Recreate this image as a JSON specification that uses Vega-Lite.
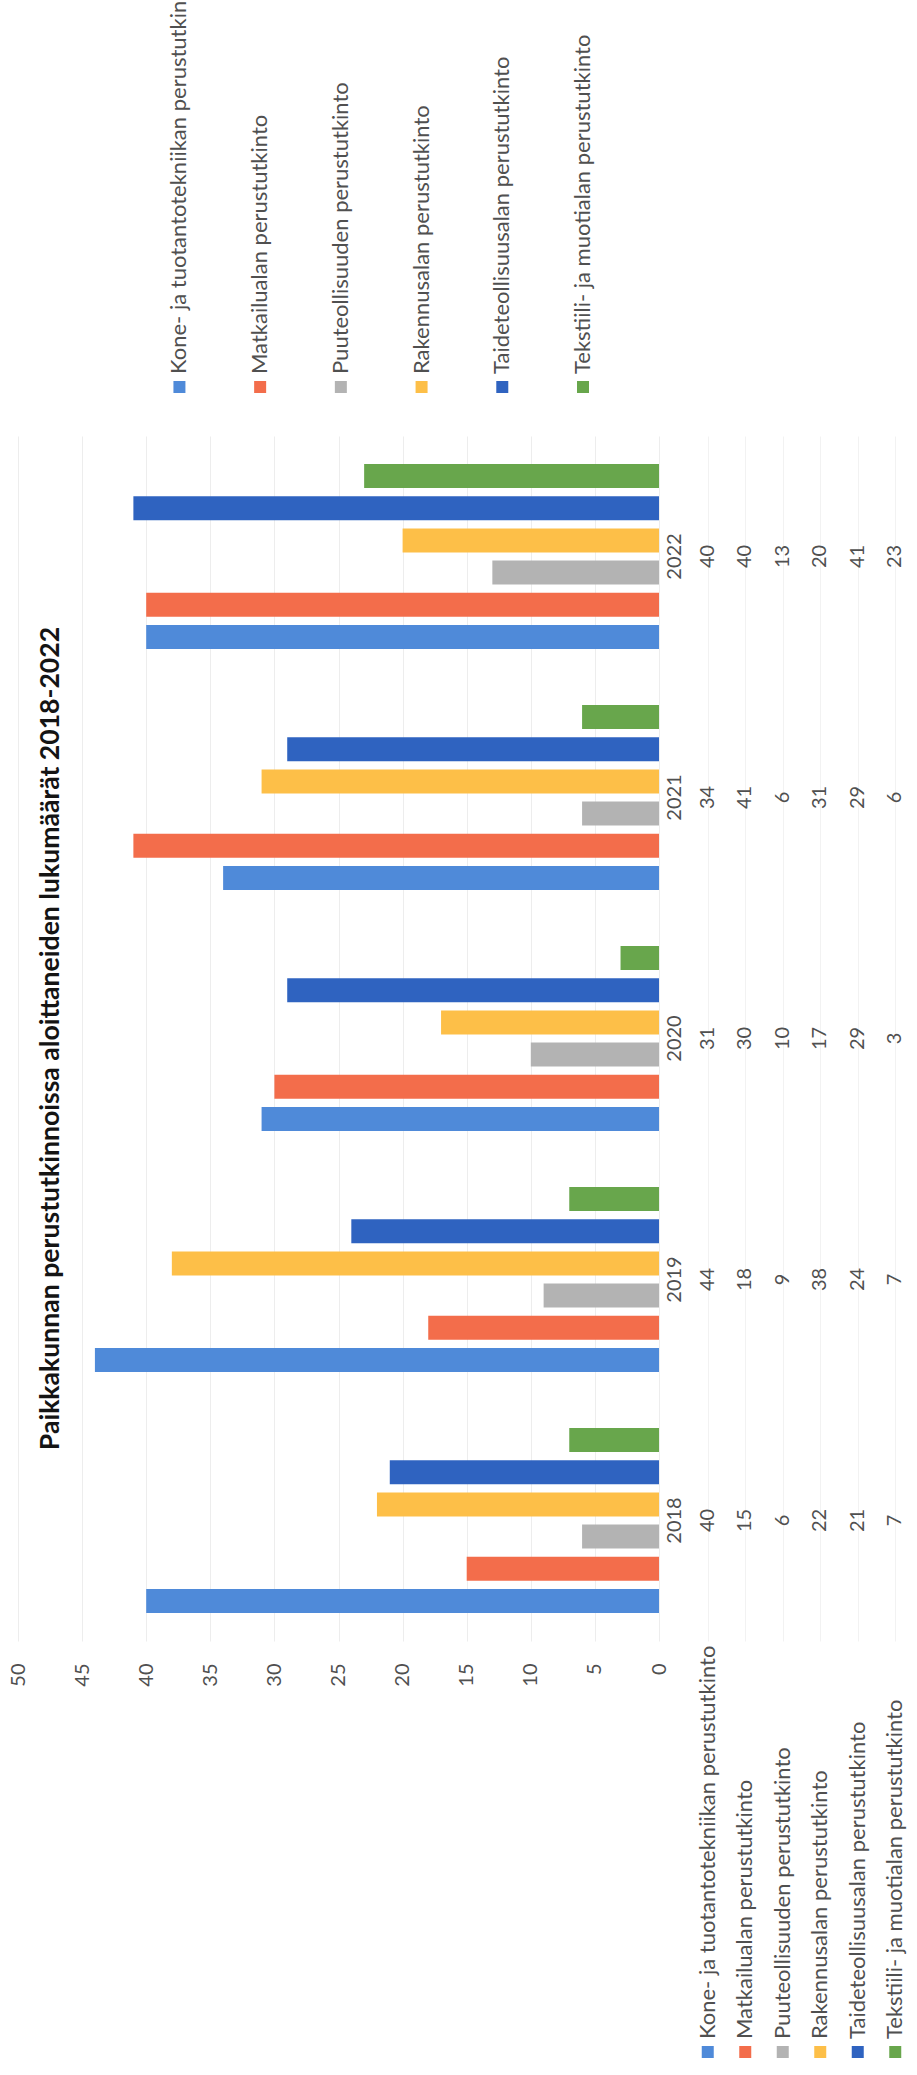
{
  "$schema": "https://vega.github.io/schema/vega-lite/v6.json",
  "background": "white",
  "padding": {"left": 8, "top": 0, "right": 0, "bottom": 0},
  "config": {"view": {"stroke": null}, "font": "Lato"},
  "datasets": {
    "main": [
      {"vuosi": "2018", "tutkinto": "Kone- ja tuotantotekniikan perustutkinto", "lkm": 40},
      {"vuosi": "2019", "tutkinto": "Kone- ja tuotantotekniikan perustutkinto", "lkm": 44},
      {"vuosi": "2020", "tutkinto": "Kone- ja tuotantotekniikan perustutkinto", "lkm": 31},
      {"vuosi": "2021", "tutkinto": "Kone- ja tuotantotekniikan perustutkinto", "lkm": 34},
      {"vuosi": "2022", "tutkinto": "Kone- ja tuotantotekniikan perustutkinto", "lkm": 40},
      {"vuosi": "2018", "tutkinto": "Matkailualan perustutkinto", "lkm": 15},
      {"vuosi": "2019", "tutkinto": "Matkailualan perustutkinto", "lkm": 18},
      {"vuosi": "2020", "tutkinto": "Matkailualan perustutkinto", "lkm": 30},
      {"vuosi": "2021", "tutkinto": "Matkailualan perustutkinto", "lkm": 41},
      {"vuosi": "2022", "tutkinto": "Matkailualan perustutkinto", "lkm": 40},
      {"vuosi": "2018", "tutkinto": "Puuteollisuuden perustutkinto", "lkm": 6},
      {"vuosi": "2019", "tutkinto": "Puuteollisuuden perustutkinto", "lkm": 9},
      {"vuosi": "2020", "tutkinto": "Puuteollisuuden perustutkinto", "lkm": 10},
      {"vuosi": "2021", "tutkinto": "Puuteollisuuden perustutkinto", "lkm": 6},
      {"vuosi": "2022", "tutkinto": "Puuteollisuuden perustutkinto", "lkm": 13},
      {"vuosi": "2018", "tutkinto": "Rakennusalan perustutkinto", "lkm": 22},
      {"vuosi": "2019", "tutkinto": "Rakennusalan perustutkinto", "lkm": 38},
      {"vuosi": "2020", "tutkinto": "Rakennusalan perustutkinto", "lkm": 17},
      {"vuosi": "2021", "tutkinto": "Rakennusalan perustutkinto", "lkm": 31},
      {"vuosi": "2022", "tutkinto": "Rakennusalan perustutkinto", "lkm": 20},
      {"vuosi": "2018", "tutkinto": "Taideteollisuusalan perustutkinto", "lkm": 21},
      {"vuosi": "2019", "tutkinto": "Taideteollisuusalan perustutkinto", "lkm": 24},
      {"vuosi": "2020", "tutkinto": "Taideteollisuusalan perustutkinto", "lkm": 29},
      {"vuosi": "2021", "tutkinto": "Taideteollisuusalan perustutkinto", "lkm": 29},
      {"vuosi": "2022", "tutkinto": "Taideteollisuusalan perustutkinto", "lkm": 41},
      {"vuosi": "2018", "tutkinto": "Tekstiili- ja muotialan perustutkinto", "lkm": 7},
      {"vuosi": "2019", "tutkinto": "Tekstiili- ja muotialan perustutkinto", "lkm": 7},
      {"vuosi": "2020", "tutkinto": "Tekstiili- ja muotialan perustutkinto", "lkm": 3},
      {"vuosi": "2021", "tutkinto": "Tekstiili- ja muotialan perustutkinto", "lkm": 6},
      {"vuosi": "2022", "tutkinto": "Tekstiili- ja muotialan perustutkinto", "lkm": 23}
    ],
    "sarjat": [
      {"tutkinto": "Kone- ja tuotantotekniikan perustutkinto"},
      {"tutkinto": "Matkailualan perustutkinto"},
      {"tutkinto": "Puuteollisuuden perustutkinto"},
      {"tutkinto": "Rakennusalan perustutkinto"},
      {"tutkinto": "Taideteollisuusalan perustutkinto"},
      {"tutkinto": "Tekstiili- ja muotialan perustutkinto"}
    ]
  },
  "spacing": 39,
  "vconcat": [
    {
      "data": {"name": "sarjat"},
      "width": 565,
      "height": 20,
      "layer": [
        {
          "mark": {"type": "point", "shape": "square", "filled": true, "size": 144, "opacity": 1},
          "encoding": {
            "x": {"field": "tutkinto", "type": "nominal", "scale": {"type": "point", "domain": ["Kone- ja tuotantotekniikan perustutkinto", "Matkailualan perustutkinto", "Puuteollisuuden perustutkinto", "Rakennusalan perustutkinto", "Taideteollisuusalan perustutkinto", "Tekstiili- ja muotialan perustutkinto"], "padding": 3.75, "align": 1}, "axis": null},
            "color": {"field": "tutkinto", "type": "nominal", "scale": {"domain": ["Kone- ja tuotantotekniikan perustutkinto", "Matkailualan perustutkinto", "Puuteollisuuden perustutkinto", "Rakennusalan perustutkinto", "Taideteollisuusalan perustutkinto", "Tekstiili- ja muotialan perustutkinto"], "range": ["#4f8ad9", "#f36d4b", "#b3b3b3", "#fdbf48", "#2f63c0", "#68a64c"]}, "legend": null}
          }
        },
        {
          "mark": {"type": "text", "angle": 270, "align": "left", "baseline": "middle", "dx": 13, "fontSize": 22, "color": "#505050", "limit": 374, "ellipsis": "\u200b"},
          "encoding": {
            "x": {"field": "tutkinto", "type": "nominal", "scale": {"type": "point", "domain": ["Kone- ja tuotantotekniikan perustutkinto", "Matkailualan perustutkinto", "Puuteollisuuden perustutkinto", "Rakennusalan perustutkinto", "Taideteollisuusalan perustutkinto", "Tekstiili- ja muotialan perustutkinto"], "padding": 3.75, "align": 1}, "axis": null},
            "text": {"field": "tutkinto", "type": "nominal"}
          }
        }
      ]
    },
    {
      "spacing": 5,
      "hconcat": [
        {
          "data": {"name": "main"},
          "width": 641,
          "height": 1205,
          "title": {"text": "Paikkakunnan perustutkinnoissa aloittaneiden lukumäärät 2018-2022", "orient": "left", "anchor": "middle", "offset": -57, "fontSize": 26.6, "font": "Lato", "fontWeight": "bold", "color": "#141414"},
          "mark": {"type": "bar"},
          "encoding": {
            "x": {"field": "lkm", "type": "quantitative", "scale": {"domain": [0, 50], "reverse": true, "nice": false}, "axis": {"values": [0, 5, 10, 15, 20, 25, 30, 35, 40, 45, 50], "orient": "bottom", "labelAngle": 270, "labelAlign": "right", "labelBaseline": "middle", "labelPadding": 22, "ticks": false, "domain": false, "grid": true, "gridColor": "#ededed", "labelFontSize": 20, "labelColor": "#505050", "title": null}},
            "y": {"field": "vuosi", "type": "nominal", "sort": "descending", "scale": {"paddingInner": 0, "paddingOuter": 0}, "axis": {"orient": "right", "labelAngle": 270, "labelAlign": "center", "labelBaseline": "top", "labelPadding": 5, "ticks": false, "domain": false, "title": null, "labelFontSize": 20, "labelColor": "#505050"}},
            "yOffset": {"field": "tutkinto", "type": "nominal", "scale": {"domain": ["Tekstiili- ja muotialan perustutkinto", "Taideteollisuusalan perustutkinto", "Rakennusalan perustutkinto", "Puuteollisuuden perustutkinto", "Matkailualan perustutkinto", "Kone- ja tuotantotekniikan perustutkinto"], "paddingInner": 0.255, "paddingOuter": 0.87}},
            "color": {"field": "tutkinto", "type": "nominal", "legend": null}
          }
        },
        {
          "spacing": 4,
          "vconcat": [
            {
              "data": {"name": "main"},
              "width": 225,
              "height": 1205,
              "mark": {"type": "text", "angle": 270, "align": "center", "baseline": "middle", "fontSize": 20, "color": "#505050"},
              "encoding": {
                "x": {"field": "tutkinto", "type": "nominal", "scale": {"domain": ["Kone- ja tuotantotekniikan perustutkinto", "Matkailualan perustutkinto", "Puuteollisuuden perustutkinto", "Rakennusalan perustutkinto", "Taideteollisuusalan perustutkinto", "Tekstiili- ja muotialan perustutkinto"], "paddingInner": 0, "paddingOuter": 0}, "axis": {"orient": "bottom", "labels": false, "ticks": false, "domain": false, "title": null, "grid": true, "bandPosition": 0, "gridColor": "#f2f2f2"}},
                "y": {"field": "vuosi", "type": "nominal", "sort": "descending", "scale": {"paddingInner": 0, "paddingOuter": 0}, "axis": null},
                "text": {"field": "lkm", "type": "quantitative"}
              }
            },
            {
              "data": {"name": "sarjat"},
              "width": 225,
              "height": 20,
              "layer": [
                {
                  "mark": {"type": "point", "shape": "square", "filled": true, "size": 144, "opacity": 1},
                  "encoding": {
                    "x": {"field": "tutkinto", "type": "nominal", "scale": {"domain": ["Kone- ja tuotantotekniikan perustutkinto", "Matkailualan perustutkinto", "Puuteollisuuden perustutkinto", "Rakennusalan perustutkinto", "Taideteollisuusalan perustutkinto", "Tekstiili- ja muotialan perustutkinto"], "paddingInner": 0, "paddingOuter": 0}, "axis": null},
                    "color": {"field": "tutkinto", "type": "nominal", "legend": null}
                  }
                },
                {
                  "mark": {"type": "text", "angle": 270, "align": "left", "baseline": "middle", "dx": 13, "fontSize": 22, "color": "#505050"},
                  "encoding": {
                    "x": {"field": "tutkinto", "type": "nominal", "scale": {"domain": ["Kone- ja tuotantotekniikan perustutkinto", "Matkailualan perustutkinto", "Puuteollisuuden perustutkinto", "Rakennusalan perustutkinto", "Taideteollisuusalan perustutkinto", "Tekstiili- ja muotialan perustutkinto"], "paddingInner": 0, "paddingOuter": 0}, "axis": null},
                    "text": {"field": "tutkinto", "type": "nominal"}
                  }
                }
              ]
            }
          ]
        }
      ]
    }
  ]
}
